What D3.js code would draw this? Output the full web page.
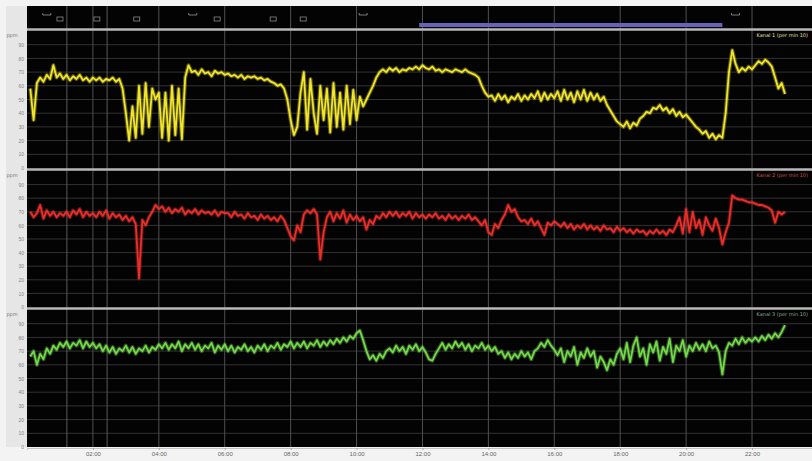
<!DOCTYPE html>
<html>
<head>
<meta charset="utf-8">
<script src="https://cdn.jsdelivr.net/npm/d3@7"></script>
<style>
  body { margin: 0; background: #f3f3f3; }
  svg { display: block; font-family: "DejaVu Sans", sans-serif; }
</style>
</head>
<body>
<svg id="chart" width="812" height="461"></svg>
<script>
// time axis in hours, one sample every 0.1 h
const sampleStep = 0.1;
const xTicks = [2, 4, 6, 8, 10, 12, 14, 16, 18, 20, 22];
const xTickLabels = ["02:00", "04:00", "06:00", "08:00", "10:00", "12:00", "14:00", "16:00", "18:00", "20:00", "22:00"];
const yTicks = [0, 10, 20, 30, 40, 50, 60, 70, 80, 90];
const eventHours = [1.21, 2.43];
const selectionRange = [11.9, 21.1];
const headerBoxes = [1.0, 2.12, 3.33, 5.77, 7.47, 8.38];
const headerBrackets = [0.6, 5.03, 10.2, 21.5];
const seriesNames = ["Kanal 1 (per min 10)", "Kanal 2 (per min 10)", "Kanal 3 (per min 10)"];

const yellowValues = [
  58, 35, 62, 66, 63, 68, 65, 75, 66, 69,
  65, 68, 64, 67, 65, 68, 64, 66, 63, 66,
  64, 66, 63, 65, 64, 66, 63, 65, 58, 40,
  20, 45, 22, 60, 25, 62, 30, 58, 50, 55,
  22, 55, 20, 60, 24, 58, 21, 66, 75, 70,
  71, 68, 72, 69, 70, 67, 71, 69, 70, 68,
  69, 67, 68, 66, 68, 65, 67, 66, 67, 65,
  66, 64, 65, 63, 62, 60, 61, 58, 50, 35,
  24, 30, 55, 70, 28, 65, 40, 25, 60, 35,
  58, 26, 62, 30, 55, 28, 60, 32, 57, 35,
  52, 45, 50, 55, 60, 66, 70, 72, 70, 73,
  71, 73, 70, 72, 71, 73, 72, 74, 72, 75,
  73, 72, 74, 71, 72, 70, 72, 71, 70, 72,
  71, 70, 72, 70, 69, 68, 66, 60, 55, 52,
  53, 49, 54, 50, 53, 48, 52, 50, 54, 49,
  53, 50, 54, 51, 56, 49, 55, 50, 54, 51,
  56, 49, 57, 50, 55, 48, 56, 50, 57, 49,
  55, 50, 54, 49, 52, 46, 42, 38, 34, 32,
  30, 34, 29, 33, 31, 36, 38, 41, 40, 44,
  43, 46, 42, 44, 40, 43, 38, 41, 37, 39,
  36, 33, 30, 28, 25, 27, 22, 25, 21, 24,
  22, 40, 70, 86, 76, 70, 73, 71, 74, 72,
  75, 78, 76, 79, 77, 74, 66, 58, 62, 54
];

const redValues = [
  70, 66, 69, 75, 65, 71, 67, 70, 66, 69,
  67, 70, 66, 71, 68, 72, 66, 70, 67, 69,
  66, 70, 67, 71, 65, 69, 66, 68, 64, 67,
  63, 66, 61, 21, 64, 60, 66, 70, 75, 72,
  74, 70, 73, 69, 72, 70, 73, 68, 71, 69,
  72, 68, 71, 69, 70, 68, 71, 67, 70, 69,
  69, 66, 70, 67, 68, 65, 69, 66, 67, 64,
  68, 65, 67, 64, 66, 63, 67, 64, 58, 52,
  49, 60, 55, 68, 71, 69, 72, 68, 35, 55,
  66, 70, 63, 69, 65, 71, 62, 68, 64, 67,
  63, 66, 57, 64, 61, 67, 65, 69, 66, 70,
  67, 70, 66, 69, 67, 70, 65, 69, 66, 68,
  65, 68, 66, 69, 65, 67, 64, 68, 65, 67,
  64, 67, 65, 68, 64, 66, 63, 60, 64, 55,
  53, 61, 58, 64, 68, 75, 70, 72, 66, 63,
  64, 61, 65, 60, 63, 58, 53, 62, 60, 63,
  61, 59, 62, 58, 61, 57, 60, 58, 61, 57,
  60, 57, 59, 56, 60, 57, 58, 55, 59, 56,
  58, 55, 57, 54, 57, 55, 56, 53, 56, 54,
  57, 54, 56, 53, 57, 55, 60, 66, 54, 72,
  55, 70, 58, 64, 53, 66, 60, 56, 65, 58,
  46, 55, 62, 82, 80, 79, 79, 78, 77, 77,
  76, 75, 75, 74, 73, 71, 62, 70, 68, 70
];

const greenValues = [
  66, 70, 60, 68, 64, 72, 68, 74, 71, 76,
  73, 77, 72, 76, 74, 78, 72, 77, 73, 76,
  72, 75, 70, 74, 69, 73, 68, 72, 70, 74,
  69, 73, 68, 72, 70, 74, 69, 73, 71, 75,
  72, 76, 71, 75, 72, 77, 70, 75, 72, 76,
  71, 75, 70, 74, 72, 76, 69, 74, 71, 75,
  70, 74, 69, 73, 71, 75, 70, 73, 69, 74,
  71, 75, 70, 74, 72, 76, 71, 75, 73, 77,
  72, 76, 73, 77, 72, 76, 74, 78, 73, 77,
  74, 78, 75, 79, 76, 80, 77, 81, 79, 83,
  85, 78, 70, 64, 67, 63, 68, 65, 70, 72,
  69, 74, 70, 73, 68, 74, 71, 75, 70, 73,
  69, 64, 63, 68, 72, 76, 71, 75, 72, 77,
  73, 76, 71, 75, 70, 74, 72, 76, 71, 74,
  70, 73, 68, 70, 65, 69, 64, 68, 65, 70,
  66, 69, 64, 70, 72, 76, 73, 78, 74, 71,
  67, 72, 62, 70, 66, 73, 60, 69, 65, 72,
  66, 70, 58, 66, 62, 56, 64, 60, 68, 72,
  64, 76, 62, 74, 80, 66, 72, 60, 75, 69,
  77, 63, 73, 68, 79, 62, 74, 70, 78, 66,
  74, 70, 76, 71, 75, 70, 77, 72, 74, 69,
  53, 70, 76, 74, 79, 75, 80, 76, 79, 77,
  80, 77, 81, 78, 82, 79, 83, 80, 84, 89
];

const panelSeries = [yellowValues, redValues, greenValues];
const panelColors = ["#f0e52c", "#ea2f2a", "#74d84c"];
const legendColors = ["#e8e0a0", "#c8504a", "#8aa890"];

const svg = d3.select("#chart");
const plotLeft = 27, plotRight = 812, plotTop = 6, plotBottom = 447;
const panelTops = [31, 171, 310];
const panelBottoms = [168, 307, 447];

// soft look of the scanned trace
svg.append("defs").append("filter").attr("id", "soft")
  .append("feGaussianBlur").attr("stdDeviation", 0.45);

const x = d3.scaleLinear().domain([0, 23.82]).range([plotLeft, plotRight]);

// dark plotting area
svg.append("rect").attr("x", 6).attr("y", plotTop).attr("width", plotLeft - 6).attr("height", plotBottom - plotTop).attr("fill", "#e6e6e6");
svg.append("rect").attr("x", plotLeft).attr("y", plotTop).attr("width", plotRight - plotLeft).attr("height", plotBottom - plotTop).attr("fill", "#030303");

// horizontal grid + left axis per panel
const yScales = panelTops.map((t, i) => d3.scaleLinear().domain([0, 100]).range([panelBottoms[i], t]));

yScales.forEach((y, i) => {
  svg.append("g")
    .selectAll("line")
    .data(yTicks.slice(1))
    .join("line")
    .attr("x1", plotLeft).attr("x2", plotRight)
    .attr("y1", d => y(d)).attr("y2", d => y(d))
    .attr("stroke", "#323232").attr("stroke-width", 1);

  const ax = svg.append("g")
    .attr("transform", `translate(${plotLeft - 3},0)`)
    .call(d3.axisLeft(y).tickValues(yTicks).tickSize(0).tickPadding(0));
  ax.select(".domain").remove();
  ax.selectAll("text").attr("font-size", 5).attr("fill", "#888");

  svg.append("text")
    .attr("x", 12).attr("y", panelTops[i] + 6)
    .attr("font-size", 5).attr("fill", "#777").attr("text-anchor", "middle")
    .text("ppm");
});

// vertical grid
svg.append("g")
  .selectAll("line")
  .data(xTicks)
  .join("line")
  .attr("x1", d => x(d)).attr("x2", d => x(d))
  .attr("y1", plotTop).attr("y2", plotBottom)
  .attr("stroke", "#505050").attr("stroke-width", 1);

svg.append("g")
  .selectAll("line")
  .data(eventHours)
  .join("line")
  .attr("x1", d => x(d)).attr("x2", d => x(d))
  .attr("y1", plotTop).attr("y2", plotBottom)
  .attr("stroke", "#5a5a5a").attr("stroke-width", 1);

// header
svg.append("rect")
  .attr("x", x(selectionRange[0])).attr("y", 23)
  .attr("width", x(selectionRange[1]) - x(selectionRange[0])).attr("height", 4)
  .attr("fill", "#6a62b8");

svg.append("g")
  .selectAll("rect")
  .data(headerBoxes)
  .join("rect")
  .attr("x", d => x(d) - 3).attr("y", 17)
  .attr("width", 6).attr("height", 4)
  .attr("fill", "none").attr("stroke", "#8a8a8a").attr("stroke-width", 0.8);

svg.append("g")
  .selectAll("path")
  .data(headerBrackets)
  .join("path")
  .attr("d", d => `M${x(d) - 4},13 v2 h8 v-2`)
  .attr("fill", "none").attr("stroke", "#9a9a9a").attr("stroke-width", 0.8);

// panel separators
[29.5, 169.5, 308.5].forEach(yy => {
  svg.append("line")
    .attr("x1", plotLeft).attr("x2", plotRight).attr("y1", yy).attr("y2", yy)
    .attr("stroke", "#b8b8b8").attr("stroke-width", 2.5);
});

// series: faint wide band + trace
panelSeries.forEach((values, i) => {
  const y = yScales[i];
  const line = d3.line()
    .x((v, k) => x((k + 1) * sampleStep))
    .y(v => y(v));
  const g = svg.append("g").attr("filter", "url(#soft)");
  g.append("path")
    .datum(values)
    .attr("d", line)
    .attr("fill", "none")
    .attr("stroke", panelColors[i])
    .attr("stroke-opacity", 0.35)
    .attr("stroke-width", 4)
    .attr("stroke-linejoin", "round");
  g.append("path")
    .datum(values)
    .attr("d", line)
    .attr("fill", "none")
    .attr("stroke", panelColors[i])
    .attr("stroke-width", 1.8)
    .attr("stroke-linejoin", "round");

  svg.append("text")
    .attr("x", 808).attr("y", panelTops[i] + 6)
    .attr("text-anchor", "end")
    .attr("font-size", 5).attr("fill", legendColors[i])
    .text(seriesNames[i]);
});

// bottom axis
const xa = svg.append("g")
  .attr("transform", `translate(0,${plotBottom + 1})`)
  .call(d3.axisBottom(x).tickValues(xTicks).tickFormat((d, k) => xTickLabels[k]).tickSize(2).tickPadding(2));
xa.select(".domain").attr("stroke", "#c4c4c4");
xa.selectAll(".tick line").attr("stroke", "#aaa");
xa.selectAll("text").attr("font-size", 6).attr("fill", "#666");
</script>
</body>
</html>
